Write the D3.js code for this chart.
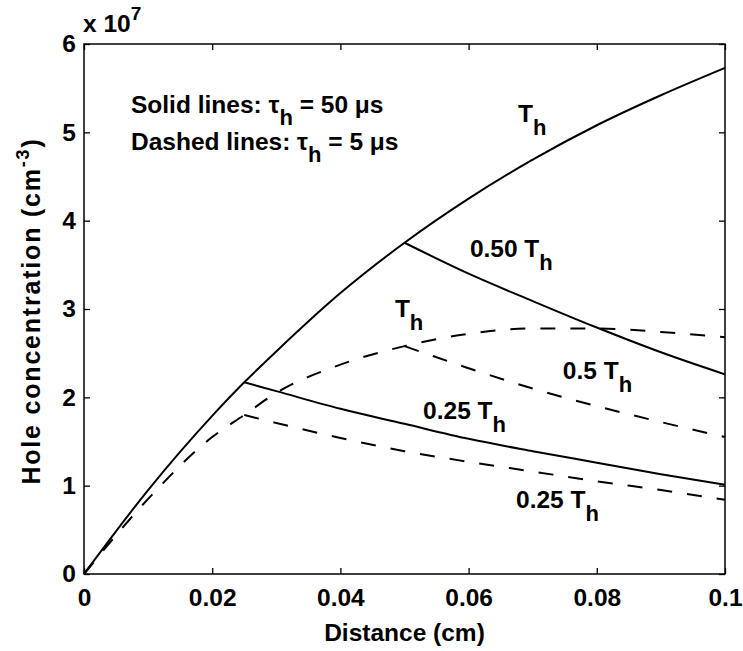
<!DOCTYPE html>
<html>
<head>
<meta charset="utf-8">
<script src="https://cdn.jsdelivr.net/npm/d3@7"></script>
<style>
  body { margin: 0; background: #fff; }
  svg text { font-family: "Liberation Sans", Arial, sans-serif; font-weight: bold; fill: #000; }
</style>
</head>
<body>
<div class="container"></div>
<script>
/* Distance (cm) and hole concentration (units of 1e7 cm^-3) */
const xFull = [0, 0.01, 0.02, 0.025, 0.03, 0.04, 0.05, 0.06, 0.07, 0.08, 0.09, 0.1];
const solidFull = [0, 0.95, 1.79, 2.17, 2.52, 3.18, 3.75, 4.25, 4.69, 5.08, 5.42, 5.73];
const dashedFull = [0, 0.85, 1.55, 1.80, 2.05, 2.37, 2.58, 2.72, 2.78, 2.78, 2.74, 2.68];

const xHalf = [0.05, 0.06, 0.07, 0.08, 0.09, 0.1];
const solidHalf = [3.75, 3.40, 3.09, 2.79, 2.51, 2.26];
const dashedHalf = [2.58, 2.33, 2.10, 1.90, 1.72, 1.55];

const xQuarter = [0.025, 0.03, 0.04, 0.05, 0.06, 0.07, 0.08, 0.09, 0.1];
const solidQuarter = [2.17, 2.07, 1.87, 1.70, 1.53, 1.39, 1.26, 1.13, 1.01];
const dashedQuarter = [1.80, 1.71, 1.54, 1.39, 1.27, 1.16, 1.05, 0.95, 0.84];

const xTicks = [0, 0.02, 0.04, 0.06, 0.08, 0.1];
const xTickLabels = ["0", "0.02", "0.04", "0.06", "0.08", "0.1"];
const yTicks = [0, 1, 2, 3, 4, 5, 6];

/* curve labels: main text, subscript, anchor in data units */
const labels = [
  { text: "T", sub: "h", x: 0.0677, y: 5.12 },
  { text: "0.50 T", sub: "h", x: 0.0602, y: 3.59 },
  { text: "T", sub: "h", x: 0.0485, y: 2.91 },
  { text: "0.5 T", sub: "h", x: 0.0747, y: 2.21 },
  { text: "0.25 T", sub: "h", x: 0.0529, y: 1.755 },
  { text: "0.25 T", sub: "h", x: 0.0674, y: 0.747 }
];

const w = 743;
const h = 651;
const margin = { left: 84, right: 18, top: 44, bottom: 77 };
const fs = "24.5px";

const xScale = d3.scaleLinear().domain([0, 0.1]).range([margin.left, w - margin.right]);
const yScale = d3.scaleLinear().domain([0, 6]).range([h - margin.bottom, margin.top]);

const svg = d3.select(".container")
              .append("svg")
              .attr("width", w)
              .attr("height", h);

/* Axes with ticks pointing inward on all four sides */
const xAxis = d3.axisBottom(xScale).tickValues(xTicks)
                .tickFormat((d, i) => xTickLabels[i])
                .tickSizeInner(-6).tickSizeOuter(0).tickPadding(15);
const yAxis = d3.axisLeft(yScale).tickValues(yTicks)
                .tickFormat(d3.format("d"))
                .tickSizeInner(-6).tickSizeOuter(0).tickPadding(8);

svg.append("g")
   .attr("transform", "translate(0," + yScale(0) + ")")
   .call(xAxis);
svg.append("g")
   .attr("transform", "translate(0," + yScale(6) + ")")
   .call(d3.axisTop(xScale).tickValues(xTicks).tickFormat("").tickSizeInner(-6).tickSizeOuter(0));
svg.append("g")
   .attr("transform", "translate(" + xScale(0) + ",0)")
   .call(yAxis);
svg.append("g")
   .attr("transform", "translate(" + xScale(0.1) + ",0)")
   .call(d3.axisRight(yScale).tickValues(yTicks).tickFormat("").tickSizeInner(-6).tickSizeOuter(0));

svg.selectAll(".domain").remove();
svg.selectAll(".tick line").attr("stroke", "#000").attr("stroke-width", 1.3);
svg.selectAll(".tick text").style("font-size", fs).attr("fill", "#000");

svg.append("rect")
   .attr("x", xScale(0))
   .attr("y", yScale(6))
   .attr("width", xScale(0.1) - xScale(0))
   .attr("height", yScale(0) - yScale(6))
   .attr("fill", "none")
   .attr("stroke", "#000")
   .attr("stroke-width", 1.5);

/* Curves */
const curves = [
  { xs: xFull, ys: solidFull, dashed: false },
  { xs: xFull, ys: dashedFull, dashed: true },
  { xs: xHalf, ys: solidHalf, dashed: false },
  { xs: xHalf, ys: dashedHalf, dashed: true },
  { xs: xQuarter, ys: solidQuarter, dashed: false },
  { xs: xQuarter, ys: dashedQuarter, dashed: true }
];

const line = d3.line()
               .x((d) => xScale(d[0]))
               .y((d) => yScale(d[1]))
               .curve(d3.curveMonotoneX);

svg.selectAll("path.curve")
   .data(curves)
   .enter()
   .append("path")
   .attr("class", "curve")
   .attr("d", (c) => line(c.xs.map((x, i) => [x, c.ys[i]])))
   .attr("fill", "none")
   .attr("stroke", "#000")
   .attr("stroke-width", 2)
   .attr("stroke-dasharray", (c) => c.dashed ? "15,15" : null);

/* Curve labels */
labels.forEach((l) => {
  const t = svg.append("text")
               .attr("x", xScale(l.x))
               .attr("y", yScale(l.y))
               .style("font-size", fs);
  t.append("tspan").text(l.text);
  t.append("tspan").text(l.sub).attr("dy", 13).style("font-size", "22px");
});

/* Legend text */
const legend = [["Solid lines: ", " = 50 \u03bcs", 113], ["Dashed lines: ", " = 5 \u03bcs", 150]];
legend.forEach((r) => {
  const t = svg.append("text")
               .attr("x", 131)
               .attr("y", r[2])
               .style("font-size", fs);
  t.append("tspan").text(r[0] + "\u03c4");
  t.append("tspan").text("h").attr("dy", 12).style("font-size", "22px");
  t.append("tspan").text(r[1]).attr("dy", -12);
});

/* Exponent multiplier */
const mult = svg.append("text").attr("x", 83).attr("y", 32).style("font-size", fs);
mult.append("tspan").text("x 10");
mult.append("tspan").text("7").attr("dy", -12).style("font-size", "19px");

/* Axis titles */
svg.append("text")
   .attr("x", (xScale(0) + xScale(0.1)) / 2)
   .attr("y", 641)
   .attr("text-anchor", "middle")
   .style("font-size", fs)
   .text("Distance (cm)");

const yl = svg.append("text")
              .attr("transform", "translate(40,311) rotate(-90)")
              .attr("text-anchor", "middle")
              .style("font-size", "25px")
              .style("letter-spacing", "1.8px");
yl.append("tspan").text("Hole concentration (cm");
yl.append("tspan").text("-3").attr("dy", -11).style("font-size", "18px");
yl.append("tspan").text(")").attr("dy", 11);
</script>
</body>
</html>
